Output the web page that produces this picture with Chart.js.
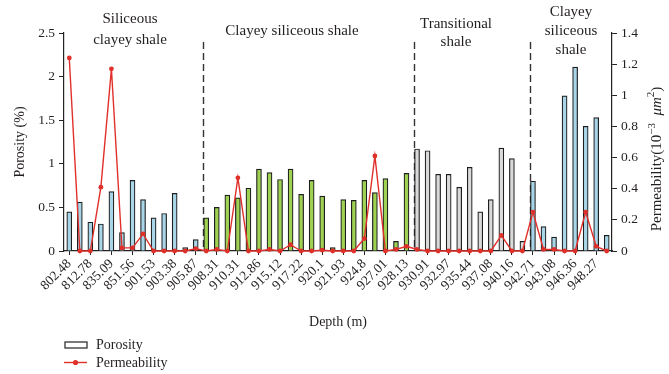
<!DOCTYPE html>
<html>
<head>
<meta charset="utf-8">
<script src="https://cdn.jsdelivr.net/npm/chart.js@4.4.1/dist/chart.umd.min.js"></script>
<style>
	html, body { margin: 0; padding: 0; background: #fff; }
</style>
</head>
<body>
<canvas id="chart" width="669" height="374"></canvas>
<script>
// only every other depth is printed on the axis
const depthTicks = [
	"802.48", "812.78", "835.09", "851.56", "901.53", "903.38", "905.87",
	"908.31", "910.31", "912.86", "915.12", "917.22", "920.1", "921.93",
	"924.8", "927.01", "928.13", "930.91", "932.97", "935.44", "937.08",
	"940.16", "942.71", "943.08", "946.36", "948.27",
];
const categories = depthTicks.flatMap((d) => [d, ""]);

// porosity, %
const porosity = [
	0.45, 0.56, 0.33, 0.31, 0.68, 0.21, 0.81, 0.59, 0.38, 0.43, 0.66, 0.04, 0.13,
	0.38, 0.50, 0.64, 0.61, 0.72, 0.94, 0.90, 0.82, 0.94, 0.65, 0.81, 0.63, 0.04,
	0.59, 0.58, 0.81, 0.67, 0.83, 0.11, 0.89,
	1.17, 1.15, 0.88, 0.88, 0.73, 0.96, 0.45, 0.59, 1.18, 1.06, 0.11,
	0.80, 0.28, 0.16, 1.78, 2.11, 1.43, 1.53, 0.18,
];

// permeability, 10^-3 um^2
const permeability = [
	1.24, 0, 0, 0.41, 1.17, 0.02, 0.02, 0.11, 0, 0, 0, 0, 0.015,
	0, 0.01, 0, 0.47, 0, 0, 0.01, 0, 0.04, 0, 0, 0.005, 0,
	0, 0, 0.08, 0.61, 0, 0.01, 0.03,
	0.01, 0, 0, 0, 0, 0, 0, 0, 0.10, 0, 0,
	0.25, 0.01, 0.01, 0, 0, 0.25, 0.03, 0,
];

// lithology zones: first bar index of each zone and its caption
const zoneStarts = [0, 13, 33, 44];
const zoneNames = [
	["Siliceous", "clayey shale"],
	["Clayey siliceous shale"],
	["Transitional", "shale"],
	["Clayey", "siliceous", "shale"],
];

const zoneColors = ["#a8d5e8", "#9fd252", "#dadada", "#a8d5e8"];
const serif = "'Liberation Serif', 'DejaVu Serif', serif";
const ink = "#231f20";

function zoneOf(i) {
	let z = 0;
	zoneStarts.forEach((s, k) => {
		if (i >= s) z = k;
	});
	return z;
}

// 0.5 -> "0.5", 1.0 -> "1"
const plainNumber = (v) => String(Number(v.toFixed(2)));

// подписи, пунктир и легенда
const decorPlugin = {
	id: "decor",
	beforeDatasetsDraw(chart) {
		const { ctx, scales, chartArea } = chart;
		ctx.save();
		ctx.strokeStyle = "#333";
		ctx.lineWidth = 1.4;
		ctx.setLineDash([7, 4]);
		zoneStarts.slice(1).forEach((s) => {
			const x = Math.round(scales.x.getPixelForValue(s - 0.3)) + 0.5;
			ctx.beginPath();
			ctx.moveTo(x, 42);
			ctx.lineTo(x, chartArea.bottom);
			ctx.stroke();
		});
		ctx.restore();
	},
	afterDraw(chart) {
		const { ctx } = chart;
		ctx.save();
		ctx.fillStyle = ink;
		ctx.textAlign = "center";
		ctx.textBaseline = "middle";
		ctx.font = "15px " + serif;

		// zone captions
		const captionY = [[19, 40], [31], [24, 42], [12, 31, 50]];
		const captionX = [130, 292, 456, 571];
		zoneNames.forEach((lines, k) => {
			lines.forEach((t, j) => ctx.fillText(t, captionX[k], captionY[k][j]));
		});

		// axis titles
		ctx.font = "14px " + serif;
		ctx.fillText("Depth (m)", 338, 322);
		ctx.save();
		ctx.translate(20, 142);
		ctx.rotate(-Math.PI / 2);
		ctx.fillText("Porosity (%)", 0, 0);
		ctx.restore();

		// right title with superscripts
		ctx.save();
		ctx.translate(657, 159);
		ctx.rotate(-Math.PI / 2);
		const parts = [
			["Permeability(10", "15px " + serif, 0],
			["\u22123", "11px " + serif, -5],
			["  ", "15px " + serif, 0],
			["\u03bcm", "italic 15px " + serif, 0],
			["2", "11px " + serif, -6],
			[")", "15px " + serif, 0],
		];
		let total = 0;
		parts.forEach((p) => {
			ctx.font = p[1];
			total += ctx.measureText(p[0]).width;
		});
		let x = -total / 2;
		ctx.textAlign = "left";
		parts.forEach((p) => {
			ctx.font = p[1];
			ctx.fillText(p[0], x, p[2]);
			x += ctx.measureText(p[0]).width;
		});
		ctx.restore();

		// legend
		ctx.textAlign = "left";
		ctx.font = "14px " + serif;
		ctx.strokeStyle = "#222";
		ctx.lineWidth = 1.2;
		ctx.fillStyle = "#fff";
		ctx.fillRect(65, 342, 22, 6);
		ctx.strokeRect(65, 342, 22, 6);
		ctx.strokeStyle = "#e0302a";
		ctx.lineWidth = 1.4;
		ctx.beginPath();
		ctx.moveTo(64, 362.5);
		ctx.lineTo(87, 362.5);
		ctx.stroke();
		ctx.fillStyle = "#e0302a";
		ctx.beginPath();
		ctx.arc(75.5, 362.5, 2.6, 0, Math.PI * 2);
		ctx.fill();
		ctx.fillStyle = ink;
		ctx.fillText("Porosity", 96, 345);
		ctx.fillText("Permeability", 96, 363);
		ctx.restore();
	},
};

const ctx = document.getElementById("chart");
const chart = new Chart(ctx, {
	data: {
		labels: categories,
		datasets: [
			{
				type: "line",
				label: "Permeability",
				data: permeability,
				yAxisID: "y1",
				borderColor: "#e0302a",
				backgroundColor: "#e0302a",
				borderWidth: 1.4,
				pointRadius: 2.4,
				pointBorderWidth: 0,
				tension: 0,
				clip: false,
				order: 0,
			},
			{
				type: "bar",
				label: "Porosity",
				data: porosity,
				yAxisID: "y",
				backgroundColor: porosity.map((v, i) => zoneColors[zoneOf(i)]),
				borderColor: "#1e1e1e",
				borderWidth: 1.2,
				barThickness: 5,
				order: 1,
			},
		],
	},
	options: {
		responsive: false,
		animation: false,
		layout: { padding: { top: 33, left: 0, right: 0, bottom: 0 } },
		plugins: {
			legend: { display: false },
			tooltip: { enabled: false },
		},
		scales: {
			x: {
				offset: true,
				grid: {
					offset: false,
					drawOnChartArea: false,
					tickLength: 4,
					color: (c) => (c.index % 2 ? "rgba(0,0,0,0)" : "#222"),
				},
				border: { color: "#222", width: 1.2 },
				ticks: {
					autoSkip: false,
					minRotation: 45,
					maxRotation: 45,
					padding: 1,
					color: ink,
					font: { family: serif, size: 13.5 },
				},
				afterFit: (s) => {
					s.height = 374 - 251;
				},
			},
			y: {
				position: "left",
				min: 0,
				max: 2.5,
				ticks: {
					stepSize: 0.5,
					color: ink,
					padding: 4,
					font: { family: serif, size: 13.5 },
					callback: plainNumber,
				},
				grid: { drawOnChartArea: false, tickLength: 5, color: "#222" },
				border: { color: "#222", width: 1.2 },
				afterFit: (s) => {
					s.width = 64;
				},
			},
			y1: {
				position: "right",
				min: 0,
				max: 1.4,
				ticks: {
					stepSize: 0.2,
					color: ink,
					padding: 4,
					font: { family: serif, size: 13.5 },
					callback: plainNumber,
				},
				grid: { drawOnChartArea: false, tickLength: 5, color: "#222" },
				border: { color: "#222", width: 1.2 },
				afterFit: (s) => {
					s.width = 669 - 612;
				},
			},
		},
	},
	plugins: [decorPlugin],
});
</script>
</body>
</html>
